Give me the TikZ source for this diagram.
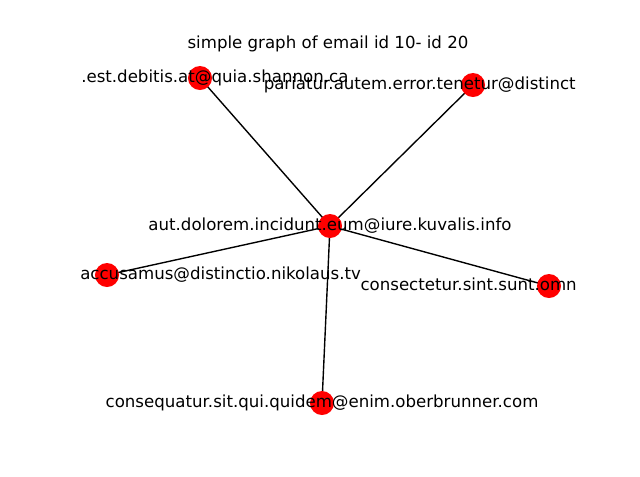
\documentclass[tikz,border=0pt]{standalone}
\usepackage{fontspec}
\setmainfont{DejaVu Sans}
\begin{document}
\begin{tikzpicture}[x=0.01in,y=-0.01in,
  vert/.style={circle,fill=red,draw=none,minimum size=0.24in,inner sep=0pt},
  lab/.style={inner sep=0pt,font=\fontsize{12pt}{14pt}\selectfont,text=black,text height=8.8pt,text depth=2.6pt},
  edge/.style={draw=black,line width=1pt}]
\useasboundingbox (0,0) rectangle (640,476);
\fill[white] (0,0) rectangle (640,476);
\node[lab] (title) at (328,44) {simple graph of email id 10- id 20};
\coordinate (c) at (330,226);
\coordinate (tl) at (200,78);
\coordinate (tr) at (473,85);
\coordinate (l) at (107,275);
\coordinate (r) at (549,286);
\coordinate (b) at (322,403);
\foreach \p in {tl,tr,l,r,b} \draw[edge] (c) -- (\p);
\foreach \p in {c,tl,tr,l,r,b} \node[vert] (n\p) at (\p) {};
\node[lab] (lc) at (c) {aut.dolorem.incidunt.eum@iure.kuvalis.info};
\node[lab,anchor=west] (ltl) at (81,78) {.est.debitis.at@quia.shannon.ca};
\node[lab,anchor=east] (ltr) at (576,85) {pariatur.autem.error.tenetur@distinct};
\node[lab,anchor=west] (ll) at (80,275) {accusamus@distinctio.nikolaus.tv};
\node[lab,anchor=east] (lr) at (577,286) {consectetur.sint.sunt.omn};
\node[lab] (lb) at (b) {consequatur.sit.qui.quidem@enim.oberbrunner.com};
\end{tikzpicture}
\end{document}
